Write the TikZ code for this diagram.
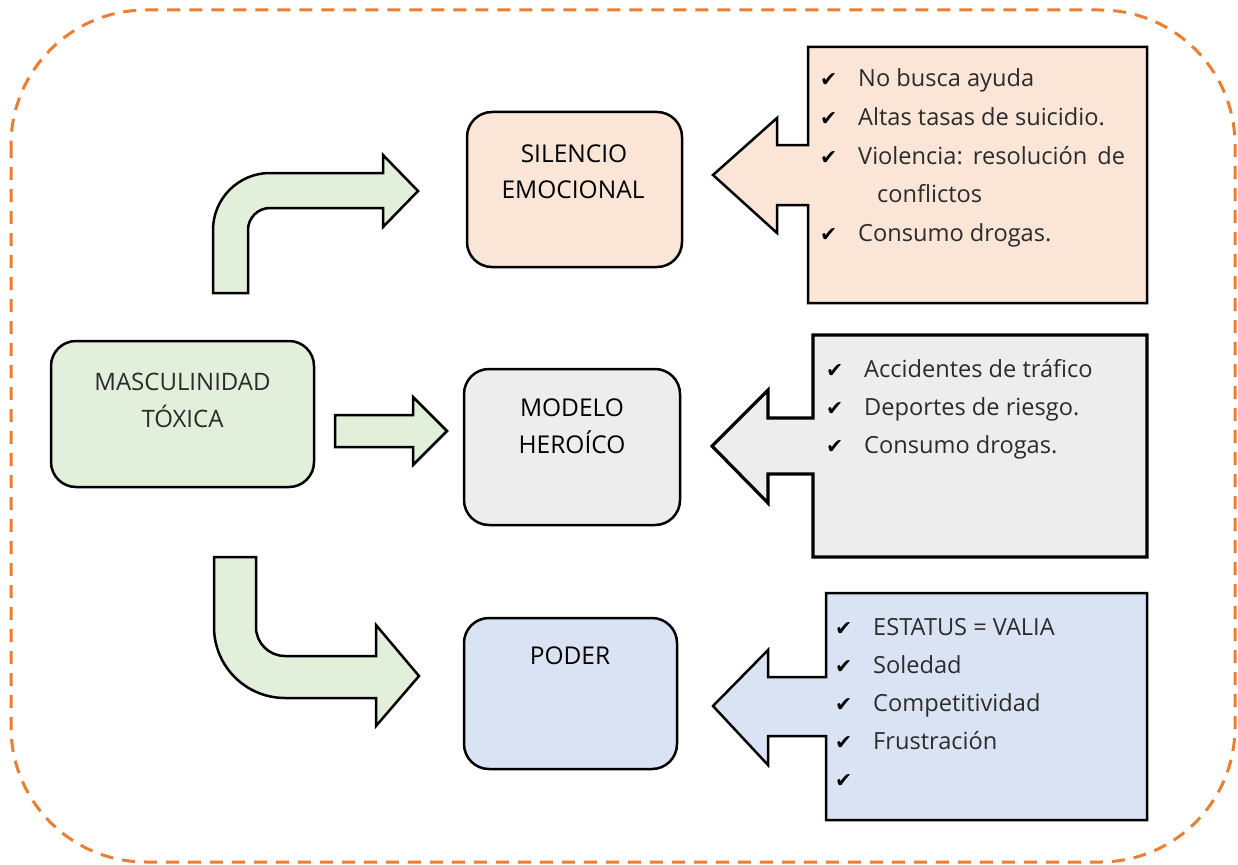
\documentclass[tikz,border=0pt]{standalone}
\usepackage{fontspec}
\setmainfont{Open Sans}
\newfontfamily\symfont{DejaVu Sans}
\definecolor{greenfill}{HTML}{E2EFDA}
\definecolor{orangefill}{HTML}{FBE5D6}
\definecolor{grayfill}{HTML}{EDEDED}
\definecolor{bluefill}{HTML}{DAE3F3}
\definecolor{dashorange}{HTML}{ED7D31}
\definecolor{itemtext}{HTML}{2B2B2B}
\tikzset{
  mainbox/.style={draw=black, line width=2.5pt, rounded corners=25pt, inner sep=0pt},
  bentarrow/.style={draw=black, line width=2.5pt, fill=greenfill, line join=miter},
  callout/.style={draw=black, line width=2.5pt, line join=miter},
  lbl/.style={font=\fontsize{24.5}{28}\selectfont, text=black, inner sep=0pt, anchor=base},
  lightlbl/.style={font=\fontsize{24}{28}\selectfont, text=itemtext, inner sep=0pt, anchor=base},
  item/.style={font=\fontsize{23.6}{28}\selectfont, text=itemtext, inner sep=0pt, anchor=base west},
  chk/.style={font=\symfont\fontsize{20.5}{24}\selectfont, text=black, inner sep=0pt, anchor=base west},
}
\begin{document}
\begin{tikzpicture}[x=1pt,y=-1pt]
\useasboundingbox (0,0) rectangle (1238,864);
% dashed frame
\draw[dashorange, line width=3pt, dash pattern=on 13pt off 9pt, rounded corners=135pt]
  (11,10) rectangle (1235,862);

% main boxes
\node[mainbox, fill=greenfill, minimum width=263pt, minimum height=146pt] (masc) at (182.5,414) {};
\node[mainbox, fill=orangefill, minimum width=215pt, minimum height=155pt] (silencio) at (574.5,189.5) {};
\node[mainbox, fill=grayfill, minimum width=216pt, minimum height=156pt] (modelo) at (572,447) {};
\node[mainbox, fill=bluefill, minimum width=213pt, minimum height=151pt] (poder) at (570.5,693.5) {};

% box labels
\node[lightlbl] (mascA) at (182.5,390) {MASCULINIDAD};
\node[lightlbl] (mascB) at (182.5,427) {TÓXICA};
\node[lbl] (silA) at (574,162) {SILENCIO};
\node[lbl] (silB) at (573,198) {EMOCIONAL};
\node[lbl] (modA) at (572,416) {MODELO};
\node[lbl] (modB) at (572,453) {HEROÍCO};
\node[lbl] (podA) at (570,664) {PODER};

% green arrows
\draw[bentarrow] (213,293) -- (213,230) arc[start angle=180, end angle=90, radius=57pt]
  -- (383,173) -- (383,155) -- (418,191) -- (383,227) -- (383,208) -- (270,208)
  arc[start angle=90, end angle=180, radius=22pt] -- (248,293) -- cycle;
\draw[bentarrow] (335,415) -- (413,415) -- (413,397) -- (447,431) -- (413,465) -- (413,447) -- (335,447) -- cycle;
\draw[bentarrow] (214,557) -- (256,557) -- (256,627) arc[start angle=180, end angle=270, radius=29pt]
  -- (376,656) -- (376,625) -- (419,676) -- (376,726) -- (376,698) -- (285,698)
  arc[start angle=270, end angle=180, radius=71pt] -- cycle;

% callouts
\draw[callout, fill=orangefill] (808,47) -- (1147,47) -- (1147,303) -- (808,303) -- (808,205)
  -- (777,205) -- (777,233) -- (713,175) -- (777,118) -- (777,145) -- (808,145) -- cycle;
\draw[callout, fill=grayfill, line width=3.2pt] (813,335) -- (1147,335) -- (1147,557) -- (813,557) -- (813,474)
  -- (768,474) -- (768,503) -- (712,446) -- (768,390) -- (768,418) -- (813,418) -- cycle;
\draw[callout, fill=bluefill] (826,593) -- (1147,593) -- (1147,820) -- (826,820) -- (826,736)
  -- (768,736) -- (768,765) -- (713,706) -- (768,650) -- (768,677) -- (826,677) -- cycle;

% callout texts: silencio
\node[chk] (c1a) at (820,87) {✔};
\node[item] (t1a) at (858,87) {No busca ayuda};
\node[chk] (c1b) at (820,125.5) {✔};
\node[item] (t1b) at (858,125.5) {Altas tasas de suicidio.};
\node[chk] (c1c) at (820,164) {✔};
\node[item] (t1c) at (858,164) {\hbox to 267pt{Violencia:\hfill resolución\hfill de}};
\node[item] (t1d) at (877,202.5) {conflictos};
\node[chk] (c1e) at (820,241) {✔};
\node[item] (t1e) at (858,241) {Consumo drogas.};

% modelo
\node[chk] (c2a) at (826,377) {✔};
\node[item] (t2a) at (864,377) {Accidentes de tráfico};
\node[chk] (c2b) at (826,415) {✔};
\node[item] (t2b) at (864,415) {Deportes de riesgo.};
\node[chk] (c2c) at (826,453) {✔};
\node[item] (t2c) at (864,453) {Consumo drogas.};

% poder
\node[chk] (c3a) at (835,635) {✔};
\node[item] (t3a) at (873,635) {ESTATUS = VALIA};
\node[chk] (c3b) at (835,673) {✔};
\node[item] (t3b) at (873,673) {Soledad};
\node[chk] (c3c) at (835,711) {✔};
\node[item] (t3c) at (873,711) {Competitividad};
\node[chk] (c3d) at (835,749) {✔};
\node[item] (t3d) at (873,749) {Frustración};
\node[chk] (c3e) at (835,787) {✔};
\end{tikzpicture}
\end{document}
